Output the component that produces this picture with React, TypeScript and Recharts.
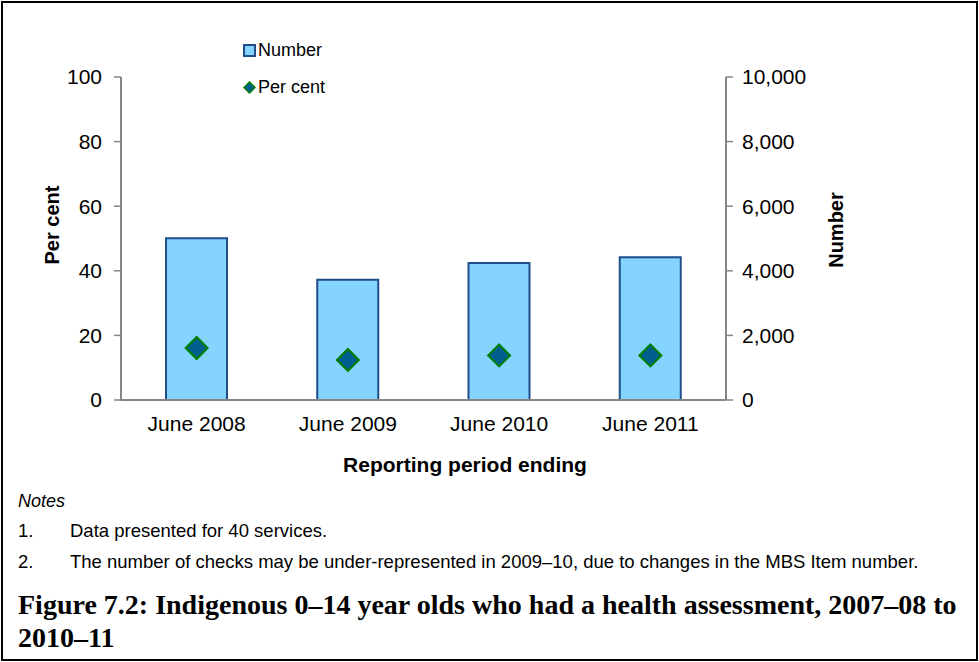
import React from "react"
import { Bar, ComposedChart, Line, XAxis, YAxis } from "recharts"

const periods = ["June 2008", "June 2009", "June 2010", "June 2011"]
const numberOfChecks = [5010, 3720, 4240, 4420]
const perCent = [16.1, 12.4, 13.8, 13.8]
const perCentTicks = [0, 20, 40, 60, 80, 100]
const numberTicks = [0, 2000, 4000, 6000, 8000, 10000]

const data = periods.map((period, i) => ({
  period,
  number: numberOfChecks[i],
  pct: perCent[i],
}))

const sans = "'Liberation Sans', Arial, sans-serif"
const serif = "'Liberation Serif', 'Times New Roman', serif"
const axisGrey = "#868686"
const barFill = "#85D3FF"
const barStroke = "#1F4E89"
const diamondFill = "#005F8C"
const diamondStroke = "#008000"

const Diamond = (props: any) => {
  const { cx, cy } = props
  if (cx == null || cy == null) return null
  const r = 11
  return (
    <polygon
      points={`${cx},${cy - r} ${cx + r},${cy} ${cx},${cy + r} ${cx - r},${cy}`}
      fill={diamondFill}
      stroke={diamondStroke}
      strokeWidth={2}
    />
  )
}

const LegendBox = () => (
  <div
    style={{
      position: "absolute",
      left: 243,
      top: 40,
      fontFamily: sans,
      fontSize: 18,
      color: "#000",
      lineHeight: "20px",
    }}
  >
    <div style={{ display: "flex", alignItems: "center" }}>
      <svg width={13} height={13} style={{ marginRight: 2 }}>
        <rect x={1} y={1} width={11} height={11} fill={barFill} stroke={barStroke} strokeWidth={2} />
      </svg>
      Number
    </div>
    <div style={{ display: "flex", alignItems: "center", marginTop: 17 }}>
      <svg width={13} height={13} style={{ marginRight: 2 }}>
        <polygon points="6.5,1 12,6.5 6.5,12 1,6.5" fill={diamondFill} stroke={diamondStroke} strokeWidth={1.5} />
      </svg>
      Per cent
    </div>
  </div>
)

const tickStyle = { fill: "#000", fontSize: 21, fontFamily: sans }

export default function App() {
  return (
    <div
      style={{
        position: "absolute",
        left: 0,
        top: 0,
        width: 979,
        height: 662,
        background: "#fff",
        fontFamily: sans,
      }}
    >
      <div
        style={{
          position: "absolute",
          left: 1,
          top: 1,
          width: 977,
          height: 660,
          border: "2px solid #000",
          boxSizing: "border-box",
        }}
      />
      <ComposedChart
        width={979}
        height={480}
        data={data}
        margin={{ top: 77, right: 193, left: 61, bottom: 50 }}
      >
        <XAxis
          dataKey="period"
          height={30}
          axisLine={{ stroke: axisGrey, strokeWidth: 2 }}
          tickLine={false}
          tickSize={0}
          tickMargin={16}
          tick={tickStyle}
        />
        <YAxis
          yAxisId="pct"
          orientation="left"
          width={60}
          domain={[0, 100]}
          ticks={perCentTicks}
          axisLine={{ stroke: axisGrey, strokeWidth: 2 }}
          tickLine={{ stroke: axisGrey, strokeWidth: 1.5 }}
          tickSize={7}
          tickMargin={12}
          tick={tickStyle}
        />
        <YAxis
          yAxisId="num"
          orientation="right"
          width={60}
          domain={[0, 10000]}
          ticks={numberTicks}
          tickFormatter={(v: number) => v.toLocaleString("en-AU")}
          axisLine={{ stroke: axisGrey, strokeWidth: 2 }}
          tickLine={{ stroke: axisGrey, strokeWidth: 1.5 }}
          tickSize={7}
          tickMargin={9}
          tick={{ ...tickStyle, textAnchor: "start" }}
        />
        <Bar
          yAxisId="num"
          dataKey="number"
          name="Number"
          barSize={61}
          fill={barFill}
          stroke={barStroke}
          strokeWidth={2}
          isAnimationActive={false}
        />
        <Line
          yAxisId="pct"
          dataKey="pct"
          name="Per cent"
          stroke="none"
          dot={<Diamond />}
          activeDot={false}
          isAnimationActive={false}
        />
      </ComposedChart>

      <LegendBox />

      {/* axis titles */}
      <div
        style={{
          position: "absolute",
          left: 52,
          top: 225,
          transform: "translate(-50%, -50%) rotate(-90deg)",
          fontWeight: "bold",
          fontSize: 20,
          whiteSpace: "nowrap",
        }}
      >
        Per cent
      </div>
      <div
        style={{
          position: "absolute",
          left: 836,
          top: 230,
          transform: "translate(-50%, -50%) rotate(-90deg)",
          fontWeight: "bold",
          fontSize: 20,
          whiteSpace: "nowrap",
        }}
      >
        Number
      </div>
      <div
        style={{
          position: "absolute",
          left: 465,
          top: 465,
          transform: "translate(-50%, -50%)",
          fontWeight: "bold",
          fontSize: 21,
          whiteSpace: "nowrap",
        }}
      >
        Reporting period ending
      </div>

      {/* notes and caption */}
      <div style={{ position: "absolute", left: 18, top: 491, fontSize: 18, fontStyle: "italic" }}>Notes</div>
      <div style={{ position: "absolute", left: 18, top: 520, fontSize: 18.5 }}>1.</div>
      <div style={{ position: "absolute", left: 70, top: 520, fontSize: 18.5 }}>Data presented for 40 services.</div>
      <div style={{ position: "absolute", left: 18, top: 551, fontSize: 18.5 }}>2.</div>
      <div style={{ position: "absolute", left: 70, top: 551, fontSize: 18.5, whiteSpace: "nowrap" }}>
        The number of checks may be under-represented in 2009–10, due to changes in the MBS Item number.
      </div>
      <div
        style={{
          position: "absolute",
          left: 18,
          top: 588,
          width: 955,
          fontFamily: serif,
          fontWeight: "bold",
          fontSize: 28,
          lineHeight: "33px",
        }}
      >
        Figure 7.2: Indigenous 0–14 year olds who had a health assessment, 2007–08 to 2010–11
      </div>
    </div>
  )
}
